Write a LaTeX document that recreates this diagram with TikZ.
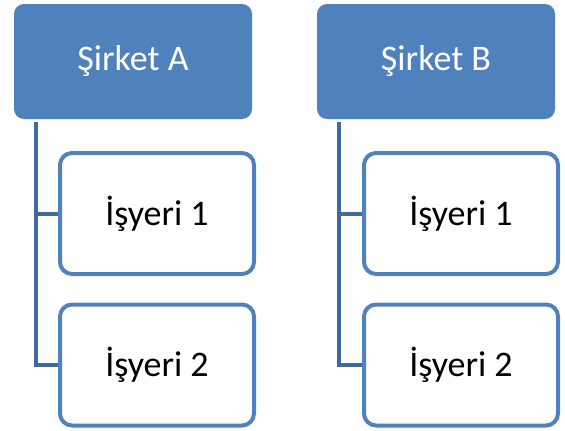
\documentclass[tikz,border=0pt]{standalone}
\usepackage{fontspec}
\setmainfont{Carlito}
\definecolor{offblue}{HTML}{4F81BD}
\definecolor{linkblue}{HTML}{41699C}
\begin{document}
\begin{tikzpicture}[x=1pt,y=-1pt,
  topbox/.style={fill=offblue, draw=none, rounded corners=10pt, minimum width=238pt, minimum height=115pt, text=white, font=\fontsize{36}{40}\selectfont, inner sep=0pt},
  childbox/.style={fill=white, draw=offblue, line width=4pt, rounded corners=12pt, minimum width=194pt, minimum height=121pt, text=black, font=\fontsize{36}{40}\selectfont, inner sep=0pt},
  link/.style={draw=linkblue, line width=4pt}]
\useasboundingbox (0,0) rectangle (565,431);
\node[topbox] (A) at (133,61.5) {Şirket A};
\node[topbox] (B) at (436,61.5) {Şirket B};
\node[childbox] (a1) at (157,213.5) {İşyeri 1};
\node[childbox] (a2) at (157,365) {İşyeri 2};
\node[childbox] (b1) at (461,213.5) {İşyeri 1};
\node[childbox] (b2) at (461,365) {İşyeri 2};
\begin{scope}[on background layer/.try]
\end{scope}
\draw[link] ([xshift=22pt,yshift=-3pt]A.south west) |- (a1.west);
\draw[link] ([xshift=22pt,yshift=-3pt]A.south west) |- (a2.west);
\draw[link] ([xshift=22.5pt,yshift=-3pt]B.south west) |- (b1.west);
\draw[link] ([xshift=22.5pt,yshift=-3pt]B.south west) |- (b2.west);
\end{tikzpicture}
\end{document}
